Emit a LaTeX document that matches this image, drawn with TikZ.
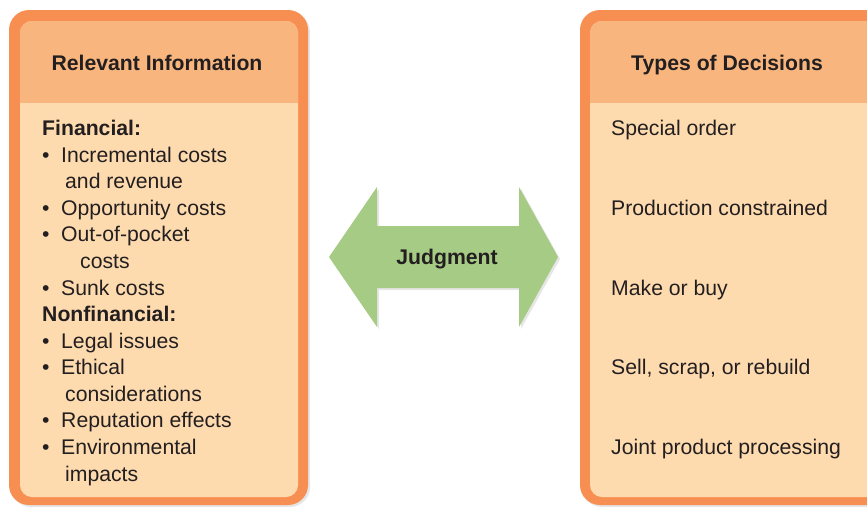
\documentclass[tikz,border=0pt]{standalone}
\usepackage{fontspec}
\setmainfont{Liberation Sans}
\usetikzlibrary{shadows}

\definecolor{rimorange}{HTML}{F78F52}
\definecolor{headorange}{HTML}{F8B67E}
\definecolor{bodycream}{HTML}{FEDBAF}
\definecolor{judggreen}{HTML}{A6CB84}
\definecolor{inkgray}{HTML}{231F20}
\newcommand{\itembullet}{\makebox[19pt][l]{\textbullet}}

\begin{document}
\begin{tikzpicture}[
    x=1pt, y=-1pt,
    every node/.style={font=\fontsize{21.2}{26.6}\selectfont, text=inkgray, inner sep=0pt},
    rim/.style={fill=rimorange, rounded corners=20pt,
      drop shadow={opacity=0.2, shadow xshift=2pt, shadow yshift=-2pt}},
    panel/.style={fill=bodycream, rounded corners=12pt},
    head/.style={anchor=base, font=\fontsize{21.2}{26.6}\selectfont\bfseries},
    line/.style={anchor=base west}
  ]
  \useasboundingbox (0,0) rectangle (867,507);
  \clip (0,0) rectangle (867,507);

  % left panel
  \path[rim] (9,10) rectangle (308,505);
  \path[panel] (20,21) rectangle (298,497);
  \begin{scope}
    \clip[rounded corners=12pt] (20,21) rectangle (298,497);
    \fill[headorange] (20,21) rectangle (298,103);
  \end{scope}

  % right panel
  \path[rim] (580,10) rectangle (900,505);
  \path[panel] (590,21) rectangle (890,497);
  \begin{scope}
    \clip[rounded corners=12pt] (590,21) rectangle (890,497);
    \fill[headorange] (590,21) rectangle (890,103);
  \end{scope}

  % double arrow
  \fill[judggreen, drop shadow={opacity=0.2, shadow xshift=2pt, shadow yshift=-2pt}]
    (329,257) -- (377,187) -- (377,226) -- (519,226) -- (519,187) -- (558,257)
    -- (519,327) -- (519,288) -- (377,288) -- (377,327) -- cycle;

  \node[head] (infohead) at (157,70) {Relevant Information};
  \node[head] (dechead) at (727,70) {Types of Decisions};
  \node[head] (judgment) at (447,264) {Judgment};

  \foreach \key/\yy/\xx/\txt in {
    fin/135/42/\textbf{Financial:},
    incr/162/42/\itembullet Incremental costs,
    incrb/188/65/and revenue,
    opp/215/42/\itembullet Opportunity costs,
    oop/241/42/\itembullet Out-of-pocket,
    oopb/268/80/costs,
    sunk/295/42/\itembullet Sunk costs,
    nonfin/321/42/\textbf{Nonfinancial:},
    legal/348/42/\itembullet Legal issues,
    eth/374/42/\itembullet Ethical,
    ethb/401/65/considerations,
    rep/427/42/\itembullet Reputation effects,
    env/454/42/\itembullet Environmental,
    envb/481/65/impacts}
    \node[line] (info-\key) at (\xx,\yy) {\txt};

  \foreach \key/\yy/\txt in {
    special/135/Special order,
    constr/215/Production constrained,
    make/295/Make or buy,
    sell/374/{Sell, scrap, or rebuild},
    joint/454/Joint product processing}
    \node[line] (dec-\key) at (611,\yy) {\txt};
\end{tikzpicture}
\end{document}
